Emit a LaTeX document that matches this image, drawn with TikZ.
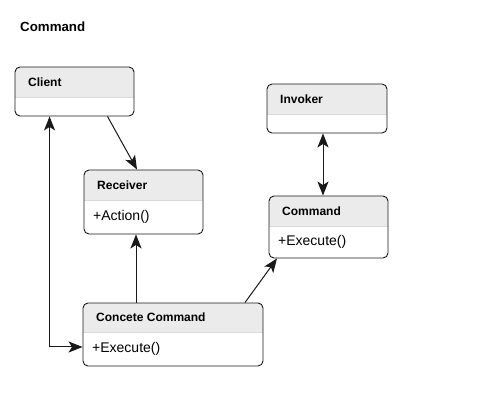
\documentclass[tikz,border=0pt]{standalone}
\usepackage{fontspec}
\setmainfont{Liberation Sans}
\usetikzlibrary{arrows.meta}
\definecolor{headGray}{RGB}{235,235,235}
\definecolor{lineGray}{RGB}{218,218,218}
\definecolor{boxBlack}{RGB}{25,25,25}

% id, left, top, right, bottom, divider, title, body
\newcommand{\umlbox}[8]{%
  \begin{scope}
    \clip[rounded corners=5] (#2,#3) rectangle (#4,#5);
    \fill[headGray] (#2,#3) rectangle (#4,#6);
    \draw[lineGray] (#2,#6) -- (#4,#6);
  \end{scope}
  \node[box, minimum width={(#4-#2)*1pt}, minimum height={(#5-#3)*1pt}] (#1) at ({(#2+#4)/2},{(#3+#5)/2}) {};
  \node[head] (#1-title) at (#2+13,{(#3+#6)/2}) {#7};
  \node[body] (#1-body) at (#2+9,{(#6+#5)/2}) {#8};
}

\begin{document}
\begin{tikzpicture}[x=1pt, y=-1pt, >={Stealth[length=14pt, width=11pt, inset=3.5pt]}]
  \tikzstyle{box} = [draw=boxBlack, line width=0.9pt, rounded corners=5, inner sep=0pt]
  \tikzstyle{head} = [anchor=west, inner sep=0pt, font=\fontsize{12}{14}\selectfont\bfseries]
  \tikzstyle{body} = [anchor=west, inner sep=0pt, font=\fontsize{14}{16}\selectfont]
  \tikzstyle{link} = [line width=1pt, boxBlack]
  \useasboundingbox (0,0) rectangle (496,411);

  \node[anchor=west, inner sep=0pt, font=\fontsize{13.3}{15}\selectfont\bfseries] (diagram-title) at (20,27) {Command};

  \umlbox{client}{15}{67}{134}{116}{97}{Client}{}
  \umlbox{receiver}{84}{170}{203}{234}{200}{Receiver}{+Action()}
  \umlbox{concrete}{83}{303}{263}{366}{332}{Concete Command}{+Execute()}
  \umlbox{invoker}{267}{84}{387}{133}{114}{Invoker}{}
  \umlbox{command}{269}{196}{388}{258}{226}{Command}{+Execute()}

  % connectors
  \draw[link, ->] ([xshift=33]client.south) -- ([xshift=-6.5]receiver.north);
  \draw[link, ->] ([xshift=-37]concrete.north) -- ([xshift=-7.5]receiver.south);
  \draw[link, ->] ([xshift=72]concrete.north) -- ([xshift=-51.5]command.south);
  \draw[link, <->] ([xshift=-4]invoker.south) -- ([xshift=-5.5]command.north);
  \draw[link, <->] ([xshift=35]client.south west) |- ([yshift=-12.5]concrete.west);
\end{tikzpicture}
\end{document}
